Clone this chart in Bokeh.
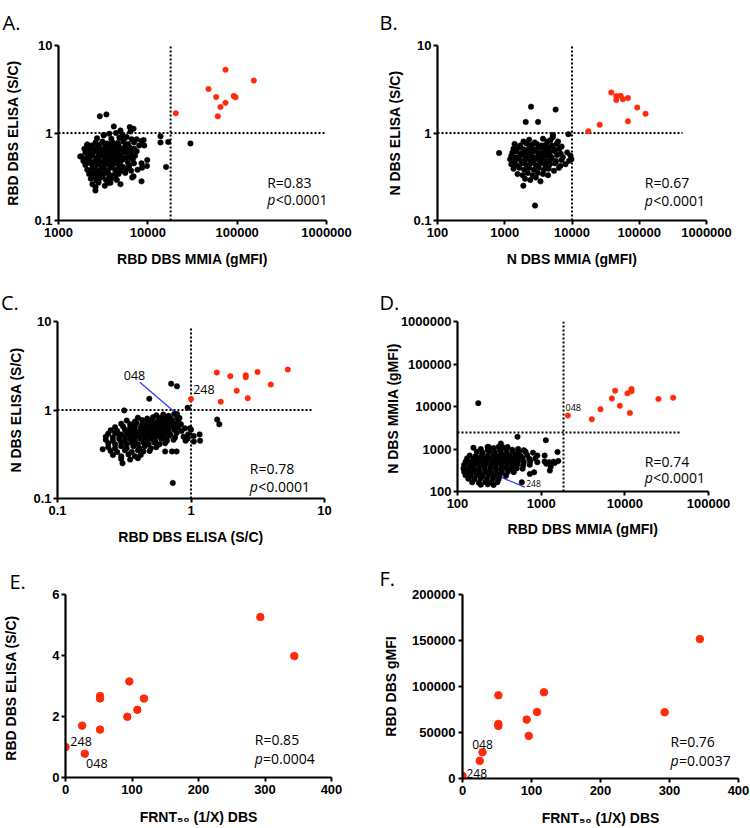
import math
from bokeh.plotting import figure
from bokeh.models import Range1d, FixedTicker, CustomJSTickFormatter, Label
from bokeh.layouts import column, row
from bokeh.embed import file_html
from bokeh.resources import INLINE

RED = "#ff2a0a"
BLUE = "#2a3cff"

# ---------------- data ----------------
# Panel A: RBD DBS MMIA (gMFI) vs RBD DBS ELISA (S/C)
a_red = [(20560, 1.68), (47800, 3.18), (58200, 2.58), (74000, 5.27), (65000, 1.98),
         (60700, 1.55), (74000, 2.21), (91600, 2.65), (95700, 2.56), (153500, 3.97)]
a_black = [
    (2900, 1.55), (3440, 1.63), (4160, 1.19), (4940, 1.07), (6280, 1.17), (6400, 1.04), (6920, 1.12), (3210, 0.94),
    (8490, 0.81), (8970, 0.83), (9120, 0.72), (9840, 0.49), (9770, 0.42), (8500, 0.45), (8600, 0.40), (8500, 0.28),
    (7670, 0.38), (6920, 0.32), (6680, 0.31), (4940, 0.26), (3820, 0.27), (2590, 0.22), (2095, 0.73), (1800, 0.54),
    (13870, 0.92), (13870, 0.78), (16900, 0.79), (16000, 0.41), (30000, 0.76),
    (3200, 0.95), (3700, 0.98), (4400, 1.0), (5200, 0.96), (4800, 0.88), (5800, 0.9), (3900, 0.86), (6600, 0.85), (2700, 0.87),
    (2100, 0.74), (2600, 0.78), (3100, 0.8), (3500, 0.76), (4000, 0.79), (4600, 0.77), (5300, 0.8), (6000, 0.75), (7000, 0.78), (8000, 0.72),
    (1950, 0.66), (2300, 0.68), (2700, 0.7), (3000, 0.65), (3400, 0.69), (3800, 0.66), (4300, 0.7), (4900, 0.67), (5500, 0.64), (6300, 0.68),
    (2000, 0.6), (2250, 0.58), (2500, 0.61), (2800, 0.59), (3100, 0.62), (3450, 0.58), (3900, 0.6), (4400, 0.62), (5000, 0.58), (5700, 0.6),
    (1750, 0.54), (2100, 0.53), (2400, 0.55), (2700, 0.52), (3000, 0.55), (3300, 0.53), (3700, 0.55), (4100, 0.52), (4700, 0.54), (5400, 0.52), (7200, 0.55),
    (1900, 0.48), (2200, 0.5), (2500, 0.47), (2800, 0.49), (3150, 0.47), (3500, 0.5), (3900, 0.48), (4400, 0.47), (5100, 0.49), (6000, 0.46), (6800, 0.5),
    (2000, 0.43), (2300, 0.45), (2600, 0.42), (2900, 0.44), (3250, 0.42), (3600, 0.45), (4000, 0.43), (4600, 0.44), (5300, 0.41),
    (2100, 0.38), (2400, 0.4), (2700, 0.37), (3000, 0.39), (3400, 0.37), (3800, 0.4), (4300, 0.38), (5000, 0.37), (5800, 0.39),
    (2200, 0.34), (2500, 0.35), (2800, 0.33), (3200, 0.34), (3600, 0.35), (4100, 0.33), (4700, 0.34),
    (2300, 0.3), (2650, 0.29), (3000, 0.31), (3400, 0.29), (3900, 0.3), (4500, 0.29),
    (2400, 0.26), (2800, 0.27), (3300, 0.25), (2600, 0.24),
    (6500, 0.6), (7000, 0.66), (6500, 0.55), (7500, 0.62), (6200, 0.42), (7000, 0.45), (5600, 0.35), (6500, 0.37), (5400, 0.85), (7500, 0.85),
    (2350, 0.72), (2850, 0.73), (3300, 0.74), (3750, 0.72), (4200, 0.74), (4700, 0.72), (5600, 0.71),
    (2150, 0.63), (2600, 0.64), (3200, 0.64), (3600, 0.62), (4100, 0.64), (4650, 0.65), (5200, 0.62), (5900, 0.64),
    (2300, 0.56), (2850, 0.56), (3500, 0.57), (4300, 0.57), (4900, 0.56), (6100, 0.53),
    (2050, 0.51), (2650, 0.5), (3300, 0.5), (4100, 0.5), (4700, 0.51), (5600, 0.5),
    (2150, 0.46), (2750, 0.46), (3400, 0.45), (4200, 0.45), (4900, 0.45),
    (2450, 0.42), (3100, 0.41), (3800, 0.42), (4800, 0.41),
    (2250, 0.36), (2900, 0.36), (3500, 0.36), (4500, 0.35),
    (2500, 0.32), (3100, 0.32), (3700, 0.32), (4300, 0.32), (2800, 0.28), (3600, 0.27),
]
a_cut = (18000, 1.0)

# Panel B: N DBS MMIA (gMFI) vs N DBS ELISA (S/C)
b_red = [(17500, 1.05), (25800, 1.24), (38400, 2.91), (45500, 2.64), (45500, 2.38), (52800, 2.67),
         (57200, 2.43), (67900, 2.51), (67900, 1.36), (93400, 1.95), (124000, 1.66)]
b_black = [
    (824, 0.59), (2460, 2.0), (5710, 1.85), (2050, 1.34), (3130, 1.34), (8830, 0.97), (2820, 0.148), (1890, 0.25), (5200, 0.95),
    (1900, 0.8), (2300, 0.84), (2800, 0.78), (3700, 0.86), (4300, 0.8), (5200, 0.9), (6200, 0.8), (4800, 0.83),
    (1400, 0.75), (1700, 0.72), (2100, 0.76), (2500, 0.73), (3000, 0.75), (3500, 0.72), (4100, 0.74), (5000, 0.72), (5900, 0.75), (7000, 0.7),
    (1350, 0.66), (1600, 0.68), (1900, 0.65), (2300, 0.67), (2700, 0.65), (3200, 0.68), (3800, 0.66), (4500, 0.67), (5400, 0.65), (6500, 0.66),
    (1300, 0.6), (1500, 0.62), (1800, 0.59), (2100, 0.61), (2500, 0.6), (2900, 0.62), (3400, 0.59), (4000, 0.61), (4700, 0.6), (5600, 0.62), (6800, 0.58), (8500, 0.6),
    (1250, 0.55), (1450, 0.53), (1700, 0.56), (2000, 0.54), (2350, 0.55), (2750, 0.53), (3200, 0.56), (3700, 0.54), (4300, 0.55), (5000, 0.53), (6000, 0.56), (7300, 0.53), (9500, 0.55),
    (1200, 0.5), (1400, 0.48), (1650, 0.5), (1950, 0.48), (2250, 0.5), (2650, 0.48), (3100, 0.5), (3600, 0.49), (4200, 0.48), (4900, 0.5), (5800, 0.48), (7000, 0.49), (9000, 0.48), (9800, 0.5),
    (1250, 0.44), (1500, 0.43), (1800, 0.45), (2100, 0.43), (2450, 0.45), (2900, 0.43), (3400, 0.45), (4000, 0.43), (4700, 0.44), (5600, 0.45), (6700, 0.42), (8000, 0.44),
    (1350, 0.39), (1650, 0.4), (1950, 0.38), (2300, 0.4), (2700, 0.38), (3200, 0.4), (3800, 0.38), (4500, 0.39), (5400, 0.37), (6400, 0.4),
    (1550, 0.34), (1850, 0.33), (2200, 0.35), (2600, 0.33), (3100, 0.35), (3700, 0.34), (4400, 0.33),
    (2000, 0.3), (2400, 0.29), (2900, 0.31), (3400, 0.28),
]
b_cut = (10000, 1.0)

# Panel C: RBD DBS ELISA vs N DBS ELISA (S/C)
c_red = [(1.0, 1.33), (1.56, 2.65), (1.67, 1.24), (1.97, 2.41), (2.2, 1.65), (2.57, 2.47),
         (2.57, 2.35), (2.66, 1.36), (3.15, 2.69), (3.96, 1.94), (5.31, 2.86)]
c_black = [
    (0.487, 1.34), (0.71, 1.98), (0.785, 1.85), (0.944, 1.06), (0.316, 0.99), (1.57, 0.78), (1.63, 0.69), (0.73, 0.15),
    (0.307, 0.25), (0.218, 0.36), (1.047, 0.51), (1.16, 0.53), (1.17, 0.45), (1.05, 0.44), (0.94, 0.47), (0.91, 0.45),
    (0.79, 0.82), (0.82, 0.81), (0.72, 0.34), (0.78, 0.34), (0.64, 0.34), (0.98, 0.62), (1.0, 0.6),
    (0.55, 0.87), (0.62, 0.89), (0.68, 0.86), (0.75, 0.9), (0.785, 0.9),
    (0.40, 0.82), (0.47, 0.8), (0.52, 0.83), (0.58, 0.81), (0.64, 0.83), (0.70, 0.8), (0.8, 0.82),
    (0.33, 0.76), (0.38, 0.74), (0.43, 0.77), (0.47, 0.75), (0.51, 0.77), (0.56, 0.74), (0.61, 0.76), (0.66, 0.75), (0.72, 0.77), (0.8, 0.74),
    (0.3, 0.7), (0.35, 0.69), (0.39, 0.71), (0.43, 0.69), (0.47, 0.71), (0.51, 0.68), (0.55, 0.71), (0.6, 0.69), (0.65, 0.71), (0.7, 0.68), (0.76, 0.7), (0.84, 0.69),
    (0.27, 0.64), (0.31, 0.65), (0.35, 0.63), (0.38, 0.65), (0.42, 0.63), (0.45, 0.65), (0.49, 0.63), (0.53, 0.65), (0.57, 0.63), (0.62, 0.65), (0.67, 0.63), (0.73, 0.65), (0.8, 0.63), (0.9, 0.62),
    (0.25, 0.59), (0.28, 0.58), (0.32, 0.6), (0.35, 0.58), (0.38, 0.6), (0.42, 0.58), (0.45, 0.6), (0.49, 0.58), (0.53, 0.6), (0.57, 0.58), (0.62, 0.6), (0.68, 0.58), (0.75, 0.6), (0.85, 0.58),
    (0.24, 0.54), (0.27, 0.55), (0.3, 0.53), (0.33, 0.55), (0.36, 0.53), (0.39, 0.55), (0.43, 0.53), (0.46, 0.55), (0.5, 0.53), (0.54, 0.55), (0.58, 0.53), (0.63, 0.55), (0.7, 0.53), (0.78, 0.55), (0.95, 0.53),
    (0.23, 0.5), (0.26, 0.49), (0.29, 0.51), (0.32, 0.49), (0.35, 0.51), (0.38, 0.49), (0.41, 0.51), (0.45, 0.49), (0.49, 0.51), (0.53, 0.49), (0.57, 0.51), (0.62, 0.49), (0.68, 0.51), (0.76, 0.49), (0.88, 0.5),
    (0.23, 0.46), (0.26, 0.45), (0.29, 0.47), (0.32, 0.45), (0.35, 0.47), (0.38, 0.45), (0.42, 0.47), (0.46, 0.45), (0.5, 0.47), (0.54, 0.45), (0.6, 0.47), (0.66, 0.45), (0.74, 0.46),
    (0.24, 0.42), (0.27, 0.41), (0.3, 0.43), (0.33, 0.41), (0.36, 0.43), (0.4, 0.41), (0.44, 0.43), (0.48, 0.41), (0.53, 0.43), (0.58, 0.41), (0.64, 0.42),
    (0.24, 0.38), (0.27, 0.37), (0.3, 0.39), (0.33, 0.37), (0.37, 0.39), (0.41, 0.37), (0.45, 0.39), (0.5, 0.37), (0.55, 0.38),
    (0.25, 0.345), (0.28, 0.335), (0.32, 0.35), (0.36, 0.335), (0.4, 0.35), (0.44, 0.34), (0.49, 0.345),
    (0.26, 0.31), (0.3, 0.3), (0.34, 0.315), (0.38, 0.3), (0.42, 0.31),
    (0.3, 0.28), (0.35, 0.275), (0.4, 0.285),
]
c_cut = (1.0, 1.0)
c_tag_048 = (0.785, 0.9)

# Panel D: RBD DBS MMIA vs N DBS MMIA (gMFI)
d_red = [(2085, 6100), (4030, 4990), (5120, 8650), (7000, 15500), (7660, 23600), (8710, 10400),
         (10760, 20400), (11480, 7060), (12000, 25900), (12000, 22800), (25200, 14960), (37800, 16100)]
d_black = [
    (177, 12000), (155, 1070), (521, 1930), (1137, 1607), (1567, 850), (1270, 310), (733, 259), (824, 283),
    (330, 1340), (396, 1117), (235, 1117), (587, 164), (1250, 490), (1100, 700), (1400, 500), (1600, 520),
    (1150, 450), (1300, 380), (1450, 470), (229, 1120), (309, 1120), (347, 1100),
    (190, 1000), (230, 950), (270, 1050), (320, 980), (380, 1020), (450, 960), (530, 1000), (620, 940),
    (170, 860), (200, 820), (240, 870), (280, 830), (330, 860), (390, 820), (460, 870), (540, 830), (650, 860), (800, 820),
    (140, 700), (165, 680), (195, 720), (230, 690), (270, 710), (310, 680), (360, 720), (420, 690), (490, 710), (570, 680), (680, 720), (900, 700),
    (130, 600), (155, 580), (180, 610), (210, 590), (245, 615), (285, 585), (330, 605), (380, 590), (440, 610), (510, 585), (600, 605), (720, 590), (850, 600),
    (125, 500), (145, 490), (170, 510), (195, 495), (225, 505), (260, 490), (300, 510), (345, 495), (400, 505), (460, 490), (530, 510), (620, 495), (740, 505), (900, 490), (1100, 510),
    (120, 420), (140, 410), (160, 430), (185, 415), (215, 425), (250, 410), (290, 430), (335, 415), (390, 425), (450, 410), (520, 430), (610, 415), (730, 425),
    (118, 350), (135, 340), (155, 355), (180, 345), (210, 358), (245, 342), (285, 352), (330, 345), (380, 356), (440, 342), (510, 350), (600, 345),
    (120, 290), (140, 282), (160, 296), (185, 285), (215, 295), (250, 282), (290, 293), (340, 284), (400, 292), (470, 285),
    (125, 240), (145, 234), (170, 246), (200, 236), (235, 244), (275, 235), (320, 243), (380, 236),
    (135, 200), (160, 195), (190, 205), (225, 197), (265, 203), (310, 196),
    (150, 165), (180, 160), (215, 168), (255, 162), (300, 166),
    (190, 145), (230, 148), (270, 143),
]
d_cut = (1850, 2450)
d_tag_248 = (300, 236)

# Panels E, F: FRNT50 (1/X) DBS
frnt50 = [0, 25, 29, 52, 52, 52, 93, 96, 108, 118, 293, 344]
e_rbd_elisa = [1.0, 1.70, 0.78, 2.67, 2.59, 1.57, 1.99, 3.15, 2.22, 2.59, 5.26, 3.98]
f_rbd_gmfi = [2900, 19200, 28600, 90400, 59300, 57100, 64000, 46300, 72300, 93700, 72000, 151500]

stats = {"A": ("R=0.83", "<0.0001"), "B": ("R=0.67", "<0.0001"), "C": ("R=0.78", "<0.0001"),
         "D": ("R=0.74", "<0.0001"), "E": ("R=0.85", "=0.0004"), "F": ("R=0.76", "=0.0037")}

log_ticks_a_x = [1000, 10000, 100000, 1000000]
log_ticks_b_x = [100, 1000, 10000, 100000, 1000000]
log_ticks_sc = [0.1, 1, 10]
log_ticks_d_x = [100, 1000, 10000, 100000]
log_ticks_d_y = [100, 1000, 10000, 100000, 1000000]
e_yticks = [0, 2, 4, 6]
f_yticks = [0, 50000, 100000, 150000, 200000]
frnt_ticks = [0, 100, 200, 300, 400]

# ---------------- layout geometry (page pixels, page origin = top-left) ----------------
ROW_TOP = {1: 0, 2: 280, 3: 547}
ROW_BORDERS = {1: (42, 60), 2: (41, 49), 3: (47, 50)}   # shared top / bottom borders per row
GEOM = {
    "A": dict(row=1, col=0, frame=(58.3, 42.3, 326.0, 220.0), xr=(1e3, 1e6), yr=(0.1, 10), xlog=True, ylog=True),
    "B": dict(row=1, col=1, frame=(436.7, 42.3, 706.0, 220.0), xr=(1e2, 1e6), yr=(0.1, 10), xlog=True, ylog=True),
    "C": dict(row=2, col=0, frame=(57.3, 319.3, 324.0, 498.3), xr=(0.1, 10), yr=(0.1, 10), xlog=True, ylog=True),
    "D": dict(row=2, col=1, frame=(456.7, 322.7, 707.7, 490.7), xr=(1e2, 1e5), yr=(1e2, 1e6), xlog=True, ylog=True),
    "E": dict(row=3, col=0, frame=(55.7, 593.3, 331.0, 777.3), xr=(0, 400), yr=(0, 6), xlog=False, ylog=False),
    "F": dict(row=3, col=1, frame=(461.7, 594.0, 738.3, 778.3), xr=(0, 400), yr=(0, 200000), xlog=False, ylog=False),
}
FIG_W = 375

TICK_FONT = "Liberation Sans"
LABEL_FONT = "Liberation Sans"
TEXT_FONT = "Open Sans"

FMT = "const v = Number(tick.toPrecision(6)); return v.toString();"


def to_data(g, px, py):
    x0, y0, x1, y1 = g["frame"]
    t = (px - x0) / (x1 - x0)
    s = (y1 - py) / (y1 - y0)
    lo, hi = g["xr"]
    if g["xlog"]:
        x = 10 ** (math.log10(lo) + t * (math.log10(hi) - math.log10(lo)))
    else:
        x = lo + t * (hi - lo)
    lo, hi = g["yr"]
    if g["ylog"]:
        y = 10 ** (math.log10(lo) + s * (math.log10(hi) - math.log10(lo)))
    else:
        y = lo + s * (hi - lo)
    return x, y


def make_fig(key, xticks, yticks, xlabel, ylabel, xstand, ystand, letter_left, letter_valign, letter_standoff):
    g = GEOM[key]
    fx = g["col"] * FIG_W
    fy = ROW_TOP[g["row"]]
    top_b, bot_b = ROW_BORDERS[g["row"]]
    x0, y0, x1, y1 = g["frame"]
    l = round(x0 - fx)
    r = FIG_W - round(x1 - fx)
    fh = round(y1 - fy) + bot_b
    g["frame"] = (fx + l, fy + top_b, fx + FIG_W - r, fy + fh - bot_b)
    p = figure(width=FIG_W, height=fh, title=key + ".",
               x_axis_type="log" if g["xlog"] else "linear",
               y_axis_type="log" if g["ylog"] else "linear",
               x_range=Range1d(*g["xr"]), y_range=Range1d(*g["yr"]),
               output_backend="svg", toolbar_location=None,
               min_border_left=l, min_border_right=r,
               min_border_top=top_b, min_border_bottom=bot_b)
    p.outline_line_color = None
    p.background_fill_color = "white"
    p.border_fill_color = "white"
    p.xgrid.visible = False
    p.ygrid.visible = False
    # panel letter
    p.title.align = "left"
    p.title.offset = letter_left - (fx + l)
    p.title.vertical_align = letter_valign
    p.title.standoff = letter_standoff
    p.title.text_font = TEXT_FONT
    p.title.text_font_size = "20px"
    p.title.text_font_style = "normal"
    p.title.text_color = "black"
    # axes
    p.xaxis.ticker = FixedTicker(ticks=xticks)
    p.yaxis.ticker = FixedTicker(ticks=yticks)
    p.xaxis.formatter = CustomJSTickFormatter(code=FMT)
    p.yaxis.formatter = CustomJSTickFormatter(code=FMT)
    for ax in (p.xaxis[0], p.yaxis[0]):
        ax.axis_line_width = 2.2
        ax.axis_line_color = "black"
        ax.major_tick_line_width = 2
        ax.major_tick_line_color = "black"
        ax.major_tick_out = 4
        ax.major_tick_in = 0
        ax.minor_tick_line_color = None
        ax.major_label_text_font = TICK_FONT
        ax.major_label_text_font_style = "bold"
        ax.major_label_text_font_size = "13px"
        ax.major_label_text_color = "black"
        ax.axis_label_text_font = LABEL_FONT
        ax.axis_label_text_font_style = "bold"
        ax.axis_label_text_font_size = "14px"
        ax.axis_label_text_color = "black"
    p.xaxis.major_label_standoff = 3
    p.yaxis.major_label_standoff = 2
    p.xaxis.axis_label = xlabel
    p.yaxis.axis_label = ylabel
    p.xaxis.axis_label_standoff = xstand
    p.yaxis.axis_label_standoff = ystand
    return p, g


def txt(p, g, px, py, s, size, style="normal", font=TEXT_FONT):
    # in-frame text; position given in page pixels and mapped to data coordinates
    x, y = to_data(g, px, py)
    p.add_layout(Label(x=x, y=y, text=s, text_font=font, text_font_size=size,
                       text_font_style=style, text_align="left", text_baseline="middle",
                       text_color="black"))


def dotted(p, xs, ys):
    p.line(xs, ys, line_color="black", line_width=2, line_dash="2 2")


def pts(p, data, color, size):
    p.scatter([d[0] for d in data], [d[1] for d in data], size=size,
              fill_color=color, line_color=color, line_width=0.5)


def stat_text(p, g, key, px, pyr, pyp):
    r, rest = stats[key]
    txt(p, g, px, pyr, r, "14px")
    txt(p, g, px, pyp, "p", "14px", style="italic")
    txt(p, g, px + 8.5, pyp, rest, "14px")


# ---------------- A ----------------
pA, gA = make_fig("A", log_ticks_a_x, log_ticks_sc, "RBD DBS MMIA (gMFI)", "RBD DBS ELISA (S/C)",
                  11, 10, 2, "top", 16)
dotted(pA, [a_cut[0], a_cut[0]], list(gA["yr"]))
dotted(pA, list(gA["xr"]), [a_cut[1], a_cut[1]])
pts(pA, a_black, "black", 5.5)
pts(pA, a_red, RED, 5.5)
stat_text(pA, gA, "A", 266.7, 181, 199)

# ---------------- B ----------------
pB, gB = make_fig("B", log_ticks_b_x, log_ticks_sc, "N DBS MMIA (gMFI)", "N DBS ELISA (S/C)",
                  11, 7, 379, "top", 16)
dotted(pB, [b_cut[0], b_cut[0]], list(gB["yr"]))
dotted(pB, [gB["xr"][0], 440000], [b_cut[1], b_cut[1]])
pts(pB, b_black, "black", 5.5)
pts(pB, b_red, RED, 5.5)
stat_text(pB, gB, "B", 644.3, 181.5, 199.5)

# ---------------- C ----------------
pC, gC = make_fig("C", log_ticks_sc, log_ticks_sc, "RBD DBS ELISA (S/C)", "N DBS ELISA (S/C)",
                  11, 6, 0.5, "top", 8)
dotted(pC, [c_cut[0], c_cut[0]], [gC["yr"][0], 8.6])
dotted(pC, [gC["xr"][0], 8.1], [c_cut[1], c_cut[1]])
lx, ly = to_data(gC, 139.3, 381.7)
pC.line([lx, c_tag_048[0]], [ly, c_tag_048[1]], line_color=BLUE, line_width=1.3)
pts(pC, c_black, "black", 5.5)
pts(pC, c_red, RED, 5.5)
stat_text(pC, gC, "C", 249.3, 468, 486)
txt(pC, gC, 123.3, 375, "048", "12.5px")
txt(pC, gC, 192.7, 389, "248", "12.5px")

# ---------------- D ----------------
pD, gD = make_fig("D", log_ticks_d_x, log_ticks_d_y, "RBD DBS MMIA (gMFI)", "N DBS  MMIA (gMFI)",
                  10, -3, 379, "top", 8)
dotted(pD, [d_cut[0], d_cut[0]], list(gD["yr"]))
dotted(pD, [gD["xr"][0], 46700], [d_cut[1], d_cut[1]])
lx, ly = to_data(gD, 524.3, 486.7)
pD.line([d_tag_248[0], lx], [d_tag_248[1], ly], line_color=BLUE, line_width=1.3)
pts(pD, d_black, "black", 5.5)
pts(pD, d_red, RED, 5.5)
stat_text(pD, gD, "D", 644.3, 461, 476.7)
txt(pD, gD, 565, 407.3, "048", "9px")
txt(pD, gD, 525.7, 483.3, "248", "8.5px")

# ---------------- E ----------------
pE, gE = make_fig("E", frnt_ticks, e_yticks, "FRNT\u2085\u2080 (1/X) DBS", "RBD DBS ELISA  (S/C)",
                  12, 30, 0, "bottom", 0)
pE.scatter(frnt50, e_rbd_elisa, size=7.5, fill_color=RED, line_color=RED)
stat_text(pE, gE, "E", 251.7, 739, 757.5)
txt(pE, gE, 61, 741.3, "248", "12.5px")
txt(pE, gE, 77.3, 763, "048", "12.5px")

# ---------------- F ----------------
pF, gF = make_fig("F", frnt_ticks, f_yticks, "FRNT\u2085\u2080 (1/X) DBS", "RBD DBS gMFI",
                  12, 10, 379, "bottom", 5)
pF.yaxis.major_label_standoff = 3
pF.scatter(frnt50, f_rbd_gmfi, size=7.5, fill_color=RED, line_color=RED)
stat_text(pF, gF, "F", 670, 741, 760)
txt(pF, gF, 471.7, 744, "048", "12px")
txt(pF, gF, 466, 773, "248", "12px")

layout = column(row(pA, pB), row(pC, pD), row(pE, pF))
open("out.html", "w").write(file_html(layout, INLINE))
